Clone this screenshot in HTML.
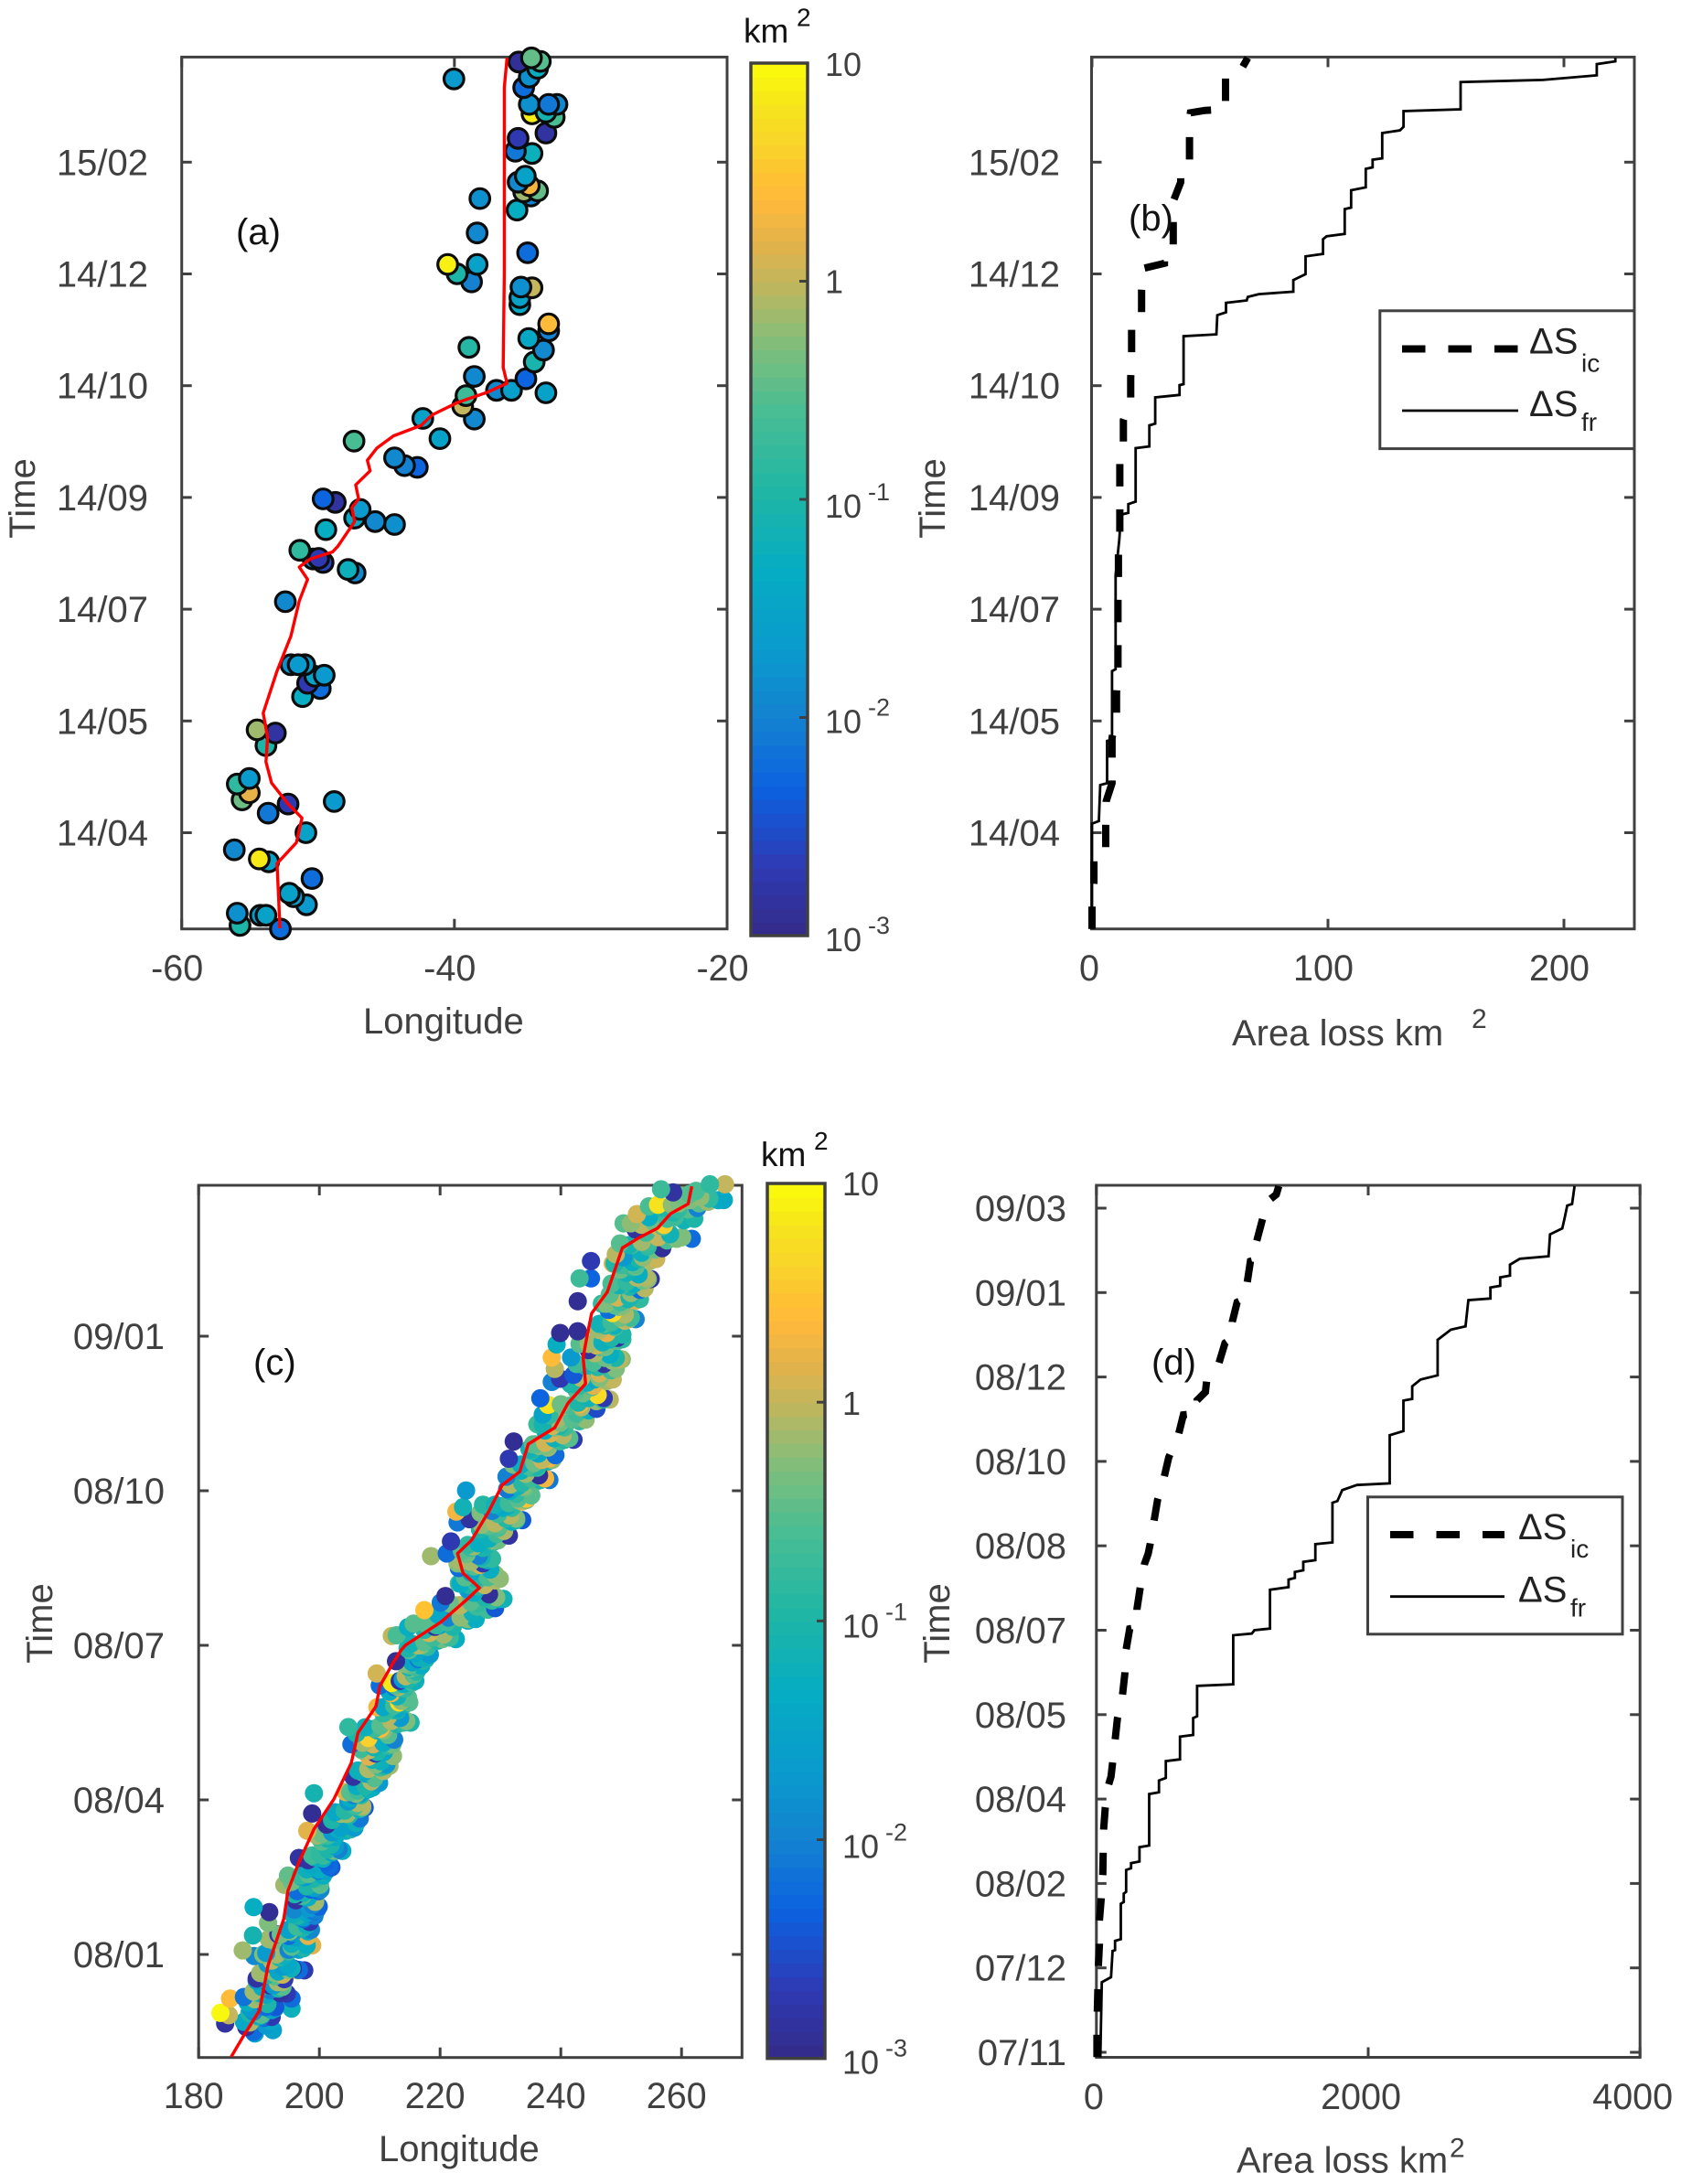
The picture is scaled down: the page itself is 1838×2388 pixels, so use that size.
<!DOCTYPE html>
<html lang="en">
<head>
<meta charset="utf-8">
<title>Area loss and longitude over time</title>
<style>
html,body{margin:0;padding:0;background:#fff;}
svg{display:block;}
text{font-family:"Liberation Sans",sans-serif;}
</style>
</head>
<body>
<svg id="chart" xmlns="http://www.w3.org/2000/svg" width="1838" height="2388" viewBox="0 0 1838 2388"></svg>
<script>
/* ---------- Shared tick data ---------- */
const timeTicksAB = [0, 1, 2, 3, 4, 5, 6];
const timeLabelsAB = ['14/04', '14/05', '14/07', '14/09', '14/10', '14/12', '15/02'];
const timeTicksC = [0, 1, 2, 3, 4];
const timeLabelsC = ['08/01', '08/04', '08/07', '08/10', '09/01'];
const timeTicksD = [0, 1, 2, 3, 4, 5, 6, 7, 8, 9, 10];
const timeLabelsD = ['07/11', '07/12', '08/02', '08/04', '08/05', '08/07', '08/08', '08/10', '08/12', '09/01', '09/03'];
const lonTicksA = [-60, -40, -20];
const lonTicksC = [180, 200, 220, 240, 260];
const areaTicksB = [0, 100, 200];
const areaTicksD = [0, 2000, 4000];
const colorTickValues = [10, 1, 0.1, 0.01, 0.001];
const colorTickBases = ['10', '1', '10', '10', '10'];
const colorTickExps = ['', '', '-1', '-2', '-3'];

/* ---------- Panel (a) scatter: longitude, time index, area km2 ---------- */
const lonA = [-40.04,-35.28,-33.70,-33.90,-34.35,-34.51,-34.92,-34.51,-32.48,-33.09,-33.29,-32.68,-34.31,-33.29,-35.33,-35.53,-34.31,
-34.39,-34.92,-33.90,-34.51,-35.33,-34.80,-38.13,-35.41,-38.33,-34.63,-40.49,-39.80,-38.74,-38.33,-34.31,-35.20,-35.20,-35.12,
-33.09,-33.09,-34.55,-38.94,-34.15,-33.46,-34.76,-38.54,-36.91,-35.81,-33.29,-39.39,-39.15,-38.54,-42.32,-41.06,-47.36,
-42.72,-43.66,-44.39,-48.74,-49.63,-47.32,-46.91,-45.81,-44.39,-49.43,
-51.34,-49.63,-49.96,-50.37,-47.28,-47.80,-52.40,-50.98,-51.99,-51.46,-49.55,-49.84,-50.77,-50.24,-51.14,
-53.82,-54.47,-53.13,-55.57,-55.04,-55.93,-55.04,-52.20,-48.82,-53.66,-50.89,-56.14,-53.62,-54.31,-50.45,-51.79,-52.11,-50.85,-55.93,-55.73,-54.23,-53.82,-52.76];
const timeA = [6.745,6.896,6.902,6.84,6.933,6.761,6.667,6.517,6.517,6.517,6.448,6.401,6.432,6.26,6.213,6.097,6.078,
5.696,5.734,5.743,5.790,5.821,5.875,5.674,5.571,5.367,5.189,5.085,5.001,4.929,5.085,4.876,4.725,4.788,4.882,
4.490,4.553,4.422,4.343,4.212,4.318,4.061,4.083,3.958,3.958,3.936,3.817,3.911,3.701,3.707,3.526,3.504,
3.269,3.285,3.354,2.956,2.987,2.815,2.893,2.784,2.758,2.712,
2.527,2.418,2.455,2.449,2.324,2.355,2.067,1.503,1.503,1.503,1.409,1.290,1.337,1.400,1.218,
0.780,0.921,0.892,0.294,0.357,0.435,0.485,0.257,0.279,0.175,0,-0.153,-0.26,-0.235,-0.41,-0.573,-0.542,-0.645,-0.72,-0.83,-0.739,-0.739,-0.862];
const areaA = [.02,.0013,.3,.05,.35,.015,.006,.015,.012,.008,.08,.25,8,.0015,.002,.008,.06,
.01,.7,.35,2,.012,.03,.015,.05,.012,.006,8,.1,.01,.03,1,.04,.03,.015,
.01,2.5,.04,.12,.09,.012,.005,.012,.012,.025,.03,1,.2,.012,.03,.03,.25,
.005,.01,.012,.0015,.005,.04,.02,.012,.015,.05,
.15,.0025,.002,.012,.012,.06,.012,.02,.015,.02,.02,.006,.002,.03,.05,
.1,.7,.0015,.4,1.6,.15,.02,.002,.02,.008,.03,.012,.03,7,.006,.02,.03,.02,.015,.1,.02,.03,.006];

/* ---------- Panel (a) track ---------- */
const trackLonA = [-36.14,-36.34,-36.34,-36.34,-36.42,-36.14,-37.56,-39.80,-41.63,-42.44,-44.47,-45.69,-46.38,-46.18,-47.24,-47.03,-47.52,-47.32,-48.54,-48.94,-50.57,-51.38,-50.77,-51.38,-51.99,-53.01,-54.02,-53.70,-53.82,-53.41,-52.20,-51.18,-51.59,-53.01,-52.89,-52.80];
const trackTimeA = [6.933,6.667,5.884,5.007,4.162,4.021,3.942,3.848,3.739,3.645,3.551,3.441,3.332,3.238,3.112,2.987,2.909,2.784,2.564,2.512,2.449,2.377,2.267,2.073,1.760,1.447,1.071,0.852,0.633,0.445,0.257,0.132,-0.088,-0.276,-0.589,-0.855];

/* ---------- Panel (b) cumulative area ---------- */
const frAreaB = [221.8,221.8,213.9,213.9,191.1,156.2,156.2,132.0,132.0,130.5,123.0,123.0,118.9,118.9,116.0,116.0,109.8,109.8,107.1,107.1,99.4,97.9,97.9,90.5,90.5,85.3,85.3,70.7,66.0,65.6,56.8,56.8,53.1,52.7,38.8,38.8,37.1,37.1,26.8,26.8,24.3,24.3,18.5,18.5,15.4,15.4,12.2,11.6,10.0,10.0,8.5,8.5,6.4,6.4,3.5,2.9,0,0];
const frTimeB = [6.933,6.902,6.877,6.777,6.736,6.717,6.473,6.457,6.316,6.285,6.260,6.034,6.022,5.953,5.940,5.774,5.749,5.593,5.580,5.358,5.336,5.311,5.179,5.157,4.998,4.945,4.841,4.819,4.794,4.763,4.741,4.656,4.631,4.459,4.443,4.014,4.005,3.917,3.895,3.660,3.645,3.457,3.441,2.962,2.940,2.862,2.846,2.628,2.304,1.463,1.447,0.832,0.822,0.443,0.427,0.104,0.081,-0.86];
const icAreaB = [0,0,0.8,0.8,0.8,5.8,5.8,5.8,6.0,8.5,8.5,8.5,10.4,10.4,11.0,11.0,11.0,11.0,11.2,11.2,11.8,11.8,11.8,11.8,13.3,13.3,16.4,16.4,16.8,16.8,16.8,21.0,21.0,21.0,21.6,30.7,30.7,34.4,34.4,34.4,34.4,37.6,37.6,41.3,41.3,41.3,41.3,41.7,47.9,56.6,56.6,56.6,56.6,63.5,66.0];
const icTimeB = [-0.861,-0.657,-0.447,-0.252,-0.172,-0.139,-0.123,0.071,0.282,0.443,0.670,0.848,1.058,1.252,1.463,1.657,1.883,2.078,2.288,2.482,2.693,2.887,3.097,3.300,3.488,3.692,3.880,4.068,4.287,4.475,4.553,4.616,4.647,4.851,5.048,5.095,5.148,5.179,5.226,5.430,5.649,5.821,5.884,5.947,5.978,6.166,6.385,6.442,6.463,6.473,6.526,6.730,6.777,6.839,6.933];

/* ---------- Panel (c) scatter: longitude, time index, area km2 ---------- */
const lonC = [
189.1,191.8,187.9,190.4,192.3,188.5,190.9,191.2,
190.2,188.6,193.5,191.4,189.3,192.7,188.1,190.8,
191.8,193.9,189.6,192.6,190.5,194.2,191.1,193.1,
193.4,196.6,190.7,194.8,192.1,195.6,191.4,193.9,
194.9,191.6,197.9,193.2,196.5,192.4,198.1,195.4,
197.4,195.1,199.2,196.3,198.4,194.9,197.9,196.8,
198.5,196.1,199.9,197.2,195.8,199.3,197.8,198.9,
199.4,196.3,200.6,197.9,195.4,198.6,200.1,197.1,
199.9,198.1,201.6,200.6,197.9,201.1,199.2,198.7,
201.3,203.8,199.6,202.6,200.4,203.2,201.9,199.9,
203.1,206.7,201.2,204.6,205.8,202.1,203.9,206.1,
205.7,207.5,204.4,206.3,205.1,207.1,204.8,206.8,
208.1,205.6,209.9,207.1,206.2,209.1,207.7,208.6,
209.3,211.6,207.1,210.2,208.2,211.1,208.8,210.7,
208.9,206.1,212.4,210.1,207.2,211.4,209.6,208.1,
212.3,215.1,209.6,213.4,210.6,214.4,211.4,212.9,
213.2,211.6,214.7,212.4,214.1,211.9,213.7,212.9,
215.1,213.3,216.9,214.3,216.1,213.8,215.6,214.8,
216.4,214.6,218.3,215.4,217.4,214.9,216.9,215.9,
219.1,222.6,215.6,220.6,217.4,221.6,218.2,219.9,
224.6,229.1,219.6,226.3,221.4,227.9,223.1,225.4,
226.6,230.5,223.1,228.1,224.6,229.3,225.6,227.4,
225.9,223.1,229.1,227.1,224.1,228.3,226.6,225.1,
225.1,222.9,227.8,226.4,223.6,227.1,224.4,225.9,
228.9,226.6,231.4,229.9,227.4,230.6,228.1,229.4,
230.4,233.6,227.1,231.6,228.6,232.6,229.6,231.1,
233.1,231.1,235.1,232.1,234.3,231.6,233.8,232.6,
235.1,238.1,232.1,236.4,233.4,237.4,234.2,235.9,
236.9,234.8,239.1,235.8,238.1,235.2,237.6,236.3,
239.1,242.1,236.1,240.3,237.4,241.4,238.2,239.8,
241.9,245.9,238.1,243.1,239.6,244.6,240.6,242.6,
244.9,248.1,241.6,246.1,242.6,247.1,243.6,245.4,
245.6,249.1,242.1,247.1,243.4,248.3,244.4,246.4,
246.6,250.1,243.1,248.1,244.6,249.1,245.6,247.4,
248.1,245.9,250.2,247.1,249.4,246.4,248.9,247.6,
249.6,252.4,246.8,250.6,247.9,251.6,248.6,250.1,
251.1,253.9,248.1,252.1,249.4,253.1,250.1,251.6,
251.6,254.9,248.6,252.9,249.9,254.1,250.9,252.4,
252.9,256.8,249.1,254.1,250.4,255.6,251.6,253.4,
256.1,261.7,250.4,258.1,252.4,260.1,254.1,257.1,
257.6,262.6,252.6,259.6,254.6,261.1,256.1,258.6,
261.4,266.1,256.6,263.1,258.6,264.6,260.1,262.4,
183.6,185.0,185.2,187.5,184.4,187.5,189.3,192.1,195.4,195.4,194.6,193.9,189.1,191.7,191.5,189.0,187.3,189.2,198.8,197.5,196.4,189.6,194.8,194.2,196.6,202.0,196.1,199.1,198.8,198.0,202.4,204.8,205.3,209.5,212.0,210.0,212.7,210.6,212.2,
245.0,245.0,243.1,242.8,239.9,242.8,239.3,238.5,241.7,239.0,239.9,238.5,236.6,237.9,237.0,232.2,231.4,231.0,224.3,223.8,222.7,226.7,222.9,224.9,221.8,221.1,218.5,220.9,220.1,217.4,214.7,212.0,212.8,267.2,264.7,267.0,
189.9,192.6,188.4,191.1,190.4,192.1,189.1,
191.2,193.9,189.1,192.4,190.1,193.2,191.8,
192.6,195.4,190.2,193.9,191.4,194.9,193.2,
194.1,197.4,191.2,195.4,192.9,196.6,194.9,
196.1,198.6,193.6,197.2,194.9,198.1,195.6,
197.4,199.6,195.6,198.4,196.4,199.1,197.9,
198.1,200.2,195.9,199.1,196.9,199.9,197.4,
198.9,201.1,196.9,199.9,197.6,200.6,198.2,
200.6,202.6,198.8,201.4,199.4,202.1,200.1,
202.6,205.2,200.4,203.6,201.4,204.4,202.1,
204.9,207.1,202.6,205.9,203.6,206.6,204.2,
206.9,208.8,205.1,207.6,206.1,208.2,206.4,
208.6,210.8,206.4,209.4,207.4,210.1,208.1,
209.6,212.1,206.9,210.6,208.1,211.4,209.1,
210.6,213.9,207.6,211.9,209.1,212.9,210.1,
212.9,214.9,210.6,213.6,211.6,214.2,212.4,
214.1,215.9,212.6,214.9,213.1,215.4,213.9,
215.9,217.6,214.1,216.6,214.9,217.2,215.4,
217.9,220.4,215.1,218.9,216.4,219.6,217.4,
222.1,225.9,217.6,223.4,219.4,224.6,221.1,
226.1,229.8,221.6,227.4,223.4,228.6,225.1,
226.4,229.9,223.4,227.9,224.9,229.1,225.9,
225.6,228.6,222.9,226.9,224.1,227.9,225.1,
227.1,229.6,224.6,228.1,225.6,228.9,226.4,
229.6,232.6,226.9,230.9,228.1,231.9,229.1,
231.9,234.3,229.1,232.9,230.4,233.6,231.4,
234.1,236.6,231.6,235.1,232.9,235.9,233.6,
236.1,238.6,233.4,237.1,234.6,237.9,235.6,
237.9,240.6,235.4,238.9,236.4,239.9,237.4,
240.6,244.1,237.0,241.9,238.6,243.1,239.9,
243.4,247.0,240.0,244.6,241.4,245.9,242.9,
245.1,248.6,241.9,246.4,243.1,247.6,244.4,
246.1,249.7,242.6,247.4,243.9,248.6,245.4,
247.4,250.2,244.6,248.4,245.9,249.4,246.9,
248.9,251.3,246.4,249.9,247.4,250.6,248.4,
250.4,253.1,247.5,251.4,248.9,252.4,249.9,
251.4,254.4,248.4,252.6,249.6,253.6,250.9,
252.4,255.8,248.9,253.6,250.1,254.9,251.9,
254.4,259.2,249.8,256.1,251.4,257.6,253.4,
256.9,262.1,251.6,258.9,253.4,260.4,255.4,
259.4,264.4,254.6,261.4,256.6,262.9,258.4];
const timeC = [
-.50,-.43,-.47,-.40,-.49,-.44,-.41,-.46,
-.27,-.35,-.25,-.32,-.29,-.34,-.31,-.26,
-.20,-.13,-.17,-.12,-.21,-.16,-.13,-.18,
-.02,-.10,0,-.07,-.04,-.09,-.06,-.01,
.03,.10,.06,.13,.04,.09,.12,.07,
.23,.15,.25,.18,.21,.16,.19,.24,
.28,.35,.31,.38,.29,.34,.37,.32,
.49,.41,.51,.44,.47,.42,.45,.50,
.54,.61,.57,.64,.55,.60,.63,.58,
.75,.67,.77,.70,.73,.68,.71,.76,
.81,.88,.84,.91,.82,.87,.90,.85,
1.03,.95,1.05,.98,1.01,.96,.99,1.04,
1.08,1.15,1.11,1.18,1.09,1.14,1.17,1.12,
1.30,1.22,1.32,1.25,1.28,1.23,1.26,1.31,
1.36,1.43,1.39,1.46,1.37,1.42,1.45,1.40,
1.58,1.50,1.60,1.53,1.56,1.51,1.54,1.59,
1.63,1.70,1.66,1.73,1.64,1.69,1.72,1.67,
1.85,1.77,1.87,1.80,1.83,1.78,1.81,1.86,
1.91,1.98,1.94,2.01,1.92,1.97,2.00,1.95,
2.12,2.04,2.14,2.07,2.10,2.05,2.08,2.13,
2.17,2.24,2.20,2.27,2.18,2.23,2.26,2.21,
2.38,2.30,2.40,2.33,2.36,2.31,2.34,2.39,
2.43,2.50,2.46,2.53,2.44,2.49,2.52,2.47,
2.63,2.55,2.65,2.58,2.61,2.56,2.59,2.64,
2.68,2.75,2.71,2.78,2.69,2.74,2.77,2.72,
2.89,2.81,2.91,2.84,2.87,2.82,2.85,2.90,
2.94,3.01,2.97,3.04,2.95,3.00,3.03,2.98,
3.15,3.07,3.17,3.10,3.13,3.08,3.11,3.16,
3.20,3.27,3.23,3.30,3.21,3.26,3.29,3.24,
3.41,3.33,3.43,3.36,3.39,3.34,3.37,3.42,
3.46,3.53,3.49,3.56,3.47,3.52,3.55,3.50,
3.67,3.59,3.69,3.62,3.65,3.60,3.63,3.68,
3.72,3.79,3.75,3.82,3.73,3.78,3.81,3.76,
3.93,3.85,3.95,3.88,3.91,3.86,3.89,3.94,
3.98,4.05,4.01,4.08,3.99,4.04,4.07,4.02,
4.19,4.11,4.21,4.14,4.17,4.12,4.15,4.20,
4.24,4.31,4.27,4.34,4.25,4.30,4.33,4.28,
4.45,4.37,4.47,4.40,4.43,4.38,4.41,4.46,
4.50,4.57,4.53,4.60,4.51,4.56,4.59,4.54,
4.71,4.63,4.73,4.66,4.69,4.64,4.67,4.72,
4.76,4.83,4.79,4.86,4.77,4.82,4.85,4.80,
4.92,4.88,4.95,4.90,4.93,4.89,4.91,4.94,
-.378,-.393,-.286,-.275,-.447,-.436,-.511,-.404,-.35,-.286,-.253,-.178,.306,.274,.205,.123,.026,-.01,.059,-.103,-.103,-.156,.51,.45,.624,.564,.381,1.043,.912,.8,.671,1.471,1.36,1.818,1.757,1.74,1.897,1.187,1.284,
4.486,4.374,4.374,4.226,4.021,4.032,3.947,3.862,3.862,3.788,3.725,3.704,3.598,3.556,3.493,3.319,3.207,3.091,3.002,2.894,2.865,2.858,2.795,2.816,2.672,2.594,2.577,2.319,2.277,2.228,2.118,2.061,2.065,4.983,4.983,4.881,
-.40,-.35,-.38,-.34,-.39,-.36,-.37,
-.26,-.21,-.24,-.20,-.25,-.22,-.23,
-.14,-.09,-.12,-.08,-.13,-.10,-.11,
-.01,.04,.01,.05,0,.03,.02,
.11,.16,.13,.17,.12,.15,.14,
.24,.29,.26,.30,.25,.28,.27,
.37,.42,.39,.43,.38,.41,.40,
.49,.54,.51,.55,.50,.53,.52,
.62,.67,.64,.68,.63,.66,.65,
.76,.81,.78,.82,.77,.80,.79,
.90,.95,.92,.96,.91,.94,.93,
1.03,1.08,1.05,1.09,1.04,1.07,1.06,
1.17,1.22,1.19,1.23,1.18,1.21,1.20,
1.31,1.36,1.33,1.37,1.32,1.35,1.34,
1.45,1.50,1.47,1.51,1.46,1.49,1.48,
1.58,1.63,1.60,1.64,1.59,1.62,1.61,
1.72,1.77,1.74,1.78,1.73,1.76,1.75,
1.86,1.91,1.88,1.92,1.87,1.90,1.89,
1.99,2.04,2.01,2.05,2.00,2.03,2.02,
2.12,2.17,2.14,2.18,2.13,2.16,2.15,
2.25,2.30,2.27,2.31,2.26,2.29,2.28,
2.38,2.43,2.40,2.44,2.39,2.42,2.41,
2.51,2.56,2.53,2.57,2.52,2.55,2.54,
2.63,2.68,2.65,2.69,2.64,2.67,2.66,
2.76,2.81,2.78,2.82,2.77,2.80,2.79,
2.89,2.94,2.91,2.95,2.90,2.93,2.92,
3.02,3.07,3.04,3.08,3.03,3.06,3.05,
3.15,3.20,3.17,3.21,3.16,3.19,3.18,
3.28,3.33,3.30,3.34,3.29,3.32,3.31,
3.41,3.46,3.43,3.47,3.42,3.45,3.44,
3.54,3.59,3.56,3.60,3.55,3.58,3.57,
3.67,3.72,3.69,3.73,3.68,3.71,3.70,
3.80,3.85,3.82,3.86,3.81,3.84,3.83,
3.93,3.98,3.95,3.99,3.94,3.97,3.96,
4.06,4.11,4.08,4.12,4.07,4.10,4.09,
4.19,4.24,4.21,4.25,4.20,4.23,4.22,
4.32,4.37,4.34,4.38,4.33,4.36,4.35,
4.45,4.50,4.47,4.51,4.46,4.49,4.48,
4.58,4.63,4.60,4.64,4.59,4.62,4.61,
4.71,4.76,4.73,4.77,4.72,4.75,4.74,
4.82,4.87,4.84,4.88,4.83,4.86,4.85];
const areaC = [
.006,.04,.0015,.01,.03,.8,.006,.02,
.5,.02,.0015,.1,.7,.004,.05,.3,
.0013,1.2,.02,.5,.05,.002,.1,.7,
.1,.006,.5,.04,.8,.0015,.02,.3,
.01,.7,.05,.002,.02,.4,1.5,.06,
.006,.5,.01,.2,.002,.03,.06,.015,
.02,.0015,.005,.3,.012,.7,.05,.01,
.2,.006,.05,.1,.4,.005,.3,.08,
.01,.0015,.006,.2,.06,.005,.3,.04,
.08,.05,.7,.02,.3,.01,.1,.2,
.05,.008,.0013,.7,.02,.1,.03,.06,
.01,.004,1.5,.8,.05,.9,.02,.03,
.1,.0015,.02,.6,.05,.3,.03,.8,
.002,.7,.5,.06,1.5,.02,.08,.04,
1.2,.1,.01,2.5,.7,.3,.06,4,
.2,.1,2,.02,.15,.5,.9,.04,
5,.05,.3,.008,.2,2,.1,.07,
.4,.0015,.05,.9,.12,.02,.3,.06,
.008,.1,.02,.7,.06,.3,.5,.04,
.0013,.05,.3,.7,.1,.2,1.2,.03,
.5,.004,.04,.15,.01,.2,.9,.06,
.008,.07,.2,.0013,.02,.5,.05,1,
.1,.006,.6,.002,.3,.05,1.2,.04,
.2,.7,.08,.01,.3,.15,.4,.05,
.6,.1,.0015,.3,.05,.8,.02,.2,
.05,.004,.12,.9,.01,.5,.2,.06,
.8,.008,.3,.1,3,.05,.6,.15,
.2,.008,.5,.0013,.06,2,.7,.1,
1.2,.07,.006,.3,2,.12,.5,.04,
.5,.002,.2,.9,.05,.3,1.3,.1,
.3,.003,.15,2,.7,.06,.9,.2,
.6,.9,.1,5,.3,.002,.4,1.5,
.04,.5,.004,.0015,.9,.2,.1,1.2,
.2,.6,.3,.05,.0015,.1,.8,.4,
.05,.7,.1,.3,.0015,.9,.06,1.5,
.4,.01,.15,.8,.006,.2,5,.5,
.08,.9,.3,.05,1.2,.006,.2,.6,
.15,.0015,1.3,.05,.4,.8,.07,.3,
.1,.0013,.9,.2,.02,.4,.5,.06,
1.2,.006,.3,.07,.0015,.5,.2,4,
.2,.01,1.2,.5,.05,.3,6,.1,
.3,.05,.2,.6,.0015,.15,.4,.25,
9,1,2.5,.007,.0015,.04,.03,.002,.06,.006,.002,.7,.05,.0012,.5,.08,.7,.012,1.5,.002,1.2,.0015,.35,.7,.0015,.004,.0015,.08,.0012,1.5,.4,.15,.006,1.2,7,.006,.0012,.8,.6,
.002,.005,.2,.0012,.0012,.0012,.05,2.5,.02,.9,.002,.01,.005,6,.03,.0012,.002,.01,.02,.07,2,.5,.008,.0015,.002,.006,.7,.0012,.008,3,.05,1,.25,1,.15,.04,
.05,.02,.1,.006,.3,.04,.012,
.04,.3,.7,.02,.06,.1,.01,
.3,.06,.7,.02,.1,.5,.04,
.06,.1,.02,.3,.7,.04,.2,
.03,.012,.4,.1,.006,.05,.02,
.03,.01,.06,.02,.1,.008,.04,
.05,.012,.1,.03,.2,.006,.08,
.1,.03,.15,.05,.02,.08,.3,
.06,.012,.2,.1,.05,.03,.15,
.05,.1,.4,.03,.2,.06,.02,
.1,.3,.04,.2,.7,.06,.12,
.15,.05,.3,.1,.5,.06,.2,
.3,.1,.06,.5,.04,.2,.8,
.1,.4,.2,.05,1,.15,.07,
.5,.15,.06,.8,.2,.1,.3,
.1,.3,.04,.6,.15,.07,.2,
.15,.06,.3,.1,.7,.2,.05,
.2,.1,.5,.06,.3,.12,.04,
.15,.4,.07,.2,.8,.1,.3,
.1,.05,.3,.6,.15,.06,.2,
.2,.07,.4,.1,.9,.15,.3,
.12,.6,.05,.25,.1,.8,.2,
.3,.15,.5,.08,.2,.05,.7,
.1,.4,.15,.06,.7,.2,.05,
.25,.08,.6,.12,.3,.05,.9,
.15,.5,.07,.3,.04,1.1,.2,
.4,.1,.8,.2,.06,.3,.12,
.15,.6,.05,1,.25,.08,.4,
.7,.12,.3,.06,.5,.2,1.2,
.2,.6,.08,.3,1.1,.15,.45,
.8,.15,.4,.07,.25,.6,.1,
.3,1,.1,.5,.15,.7,.06,
.12,.9,.2,.4,.08,.6,.25,
.5,.15,.7,.1,1.1,.3,.06,
.25,.8,.07,.4,.12,1,.2,
.7,.15,.5,.09,.3,1.3,.2,
.1,.6,.25,.9,.07,.4,.15,
.4,1.1,.1,.6,.2,.8,.05,
.15,.5,.3,1,.08,.25,.7,
.3,.1,.6,.2,.9,.07,.4,
.15,.7,.25,.5,.1,.3,.6];

/* ---------- Panel (c) track ---------- */
const trackLonC = [261.7,261.1,258.2,256.0,252.8,250.2,248.8,247.7,245.1,244.4,243.7,244.1,241.2,239.0,234.6,233.2,230.3,228.1,225.2,222.9,223.8,226.5,224.5,220.1,214.3,213.6,212.2,210.0,209.4,206.4,205.3,202.4,199.1,196.6,194.8,194.1,191.5,190.1,187.5,185.4];
const trackTimeC = [4.97,4.856,4.793,4.698,4.634,4.571,4.412,4.285,4.148,4.011,3.863,3.693,3.567,3.408,3.302,3.123,3.038,2.869,2.679,2.594,2.467,2.372,2.298,2.150,2.002,1.972,1.886,1.735,1.606,1.434,1.241,1.004,0.811,0.596,0.413,0.230,-0.071,-0.361,-0.523,-0.662];

/* ---------- Panel (d) cumulative area ---------- */
const frAreaD = [3518,3500,3464,3446,3428,3338,3327,3115,3043,3043,2971,2971,2899,2899,2737,2716,2608,2511,2511,2385,2324,2324,2259,2259,2158,2158,1917,1809,1773,1737,1737,1611,1611,1522,1522,1460,1460,1414,1414,1277,1277,1162,1144,1007,1007,741,741,712,712,615,615,511,511,460,460,388,388,317,317,255,255,219,219,201,201,180,180,137,137,119,108,40,29];
const frTimeD = [10.26,10.05,10.03,9.89,9.76,9.69,9.43,9.40,9.33,9.20,9.18,9.08,9.06,8.93,8.91,8.60,8.56,8.44,8.02,7.97,7.89,7.74,7.72,7.36,7.31,6.74,6.72,6.66,6.53,6.51,6.04,6.02,5.83,5.81,5.71,5.69,5.62,5.60,5.51,5.48,5.02,5.00,4.96,4.94,4.36,4.34,3.98,3.96,3.76,3.74,3.47,3.45,3.25,3.22,3.08,3.06,2.45,2.43,2.26,2.24,2.18,2.16,1.90,1.88,1.78,1.76,1.34,1.32,1.21,1.20,0.89,0.83,-0.06];
const icAreaD = [4,4,7,11,14,22,22,36,47,50,54,65,90,108,119,137,155,191,209,216,245,299,299,324,353,381,396,424,450,496,532,604,640,741,741,802,813,899,946,1000,1000,1036,1090,1108,1133,1173,1180,1223,1252,1270,1324,1342];
const icTimeD = [-0.057,0.207,0.483,0.747,1.011,1.275,1.560,1.824,2.108,2.352,2.656,2.900,3.172,3.266,3.428,3.692,3.956,4.220,4.484,4.745,5.016,5.035,5.256,5.519,5.782,5.906,6.022,6.293,6.545,6.796,7.048,7.319,7.551,7.570,7.725,7.822,7.977,8.151,8.402,8.460,8.654,8.886,8.925,9.099,9.370,9.389,9.610,9.873,9.911,10.093,10.163,10.260];

/* ---------- Colour map stops (position, r, g, b) ---------- */
const cmapStops = [[0,52,42,136],[.08,46,58,180],[.17,12,98,224],[.25,20,130,208],[.33,10,155,205],[.42,6,172,195],[.5,28,181,168],[.6,72,189,148],[.68,130,190,122],[.75,195,182,92],[.79,224,178,76],[.84,254,184,60],[.87,254,194,51],[.91,248,213,42],[.95,246,228,28],[1,249,252,10]];

const AXIS = '#404040';
const svg = document.getElementById('chart');
const NS = 'http://www.w3.org/2000/svg';

function add(parent, tag, attrs, txt) {
  const el = document.createElementNS(NS, tag);
  for (const k in attrs) el.setAttribute(k, attrs[k]);
  if (txt !== undefined) el.textContent = txt;
  parent.appendChild(el);
  return el;
}
function colorFor(area) {
  let t = (Math.log10(area) + 3) / 4;
  t = Math.max(0, Math.min(1, t));
  for (let i = 1; i < cmapStops.length; i++) {
    const a = cmapStops[i - 1], b = cmapStops[i];
    if (t <= b[0]) {
      const f = (t - a[0]) / (b[0] - a[0]);
      return 'rgb(' + [1, 2, 3].map(j => Math.round(a[j] + (b[j] - a[j]) * f)).join(',') + ')';
    }
  }
  return 'rgb(249,252,10)';
}
function polyPoints(xs, ys, xf, yf) {
  const n = Math.min(xs.length, ys.length);
  const out = [];
  for (let i = 0; i < n; i++) out.push(xf(xs[i]).toFixed(1) + ',' + yf(ys[i]).toFixed(1));
  return out.join(' ');
}

function drawAxes(g, b, xf, yf, xTicks, yTicks, yLabels, opt) {
  const frame = add(g, 'rect', {x: b.l, y: b.t, width: b.r - b.l, height: b.b - b.t, fill: 'none', stroke: AXIS, 'stroke-width': 3});
  
  
  xTicks.forEach(v => {
    const x = xf(v);
    const t1 = add(g, 'line', {x1: x, x2: x, y1: b.b, y2: b.b - 11, stroke: AXIS, 'stroke-width': 3});
    
    
    const t2 = add(g, 'line', {x1: x, x2: x, y1: b.t, y2: b.t + 11, stroke: AXIS, 'stroke-width': 3});
    
    
    const lab = add(g, 'text', {x: x + (v === 0 ? -3 : opt.xLabelShift), y: opt.xLabelY, 'text-anchor': 'middle', 'font-size': 39.5, fill: AXIS}, String(v));
    
    
  });
  yTicks.forEach((v, i) => {
    const y = yf(v);
    const t1 = add(g, 'line', {x1: b.l, x2: b.l + 11, y1: y, y2: y, stroke: AXIS, 'stroke-width': 3});
    
    
    const t2 = add(g, 'line', {x1: b.r, x2: b.r - 11, y1: y, y2: y, stroke: AXIS, 'stroke-width': 3});
    
    
    const lab = add(g, 'text', {x: opt.yLabelX, y: y + 14, 'text-anchor': 'end', 'font-size': 40, fill: AXIS}, yLabels[i]);
    
    
  });
  const yt = add(g, 'text', {transform: 'translate(' + opt.timeX + ',' + opt.timeY + ') rotate(-90)', 'text-anchor': 'middle', 'font-size': 40, fill: AXIS}, 'Time');
  
  
}

function drawScatter(g, lons, times, areas, xf, yf, r, edge) {
  const n = Math.min(lons.length, times.length, areas.length);
  const order = Array.from({length: n}, (_, i) => i).sort((p, q) => times[p] - times[q]);
  order.forEach(i => {
    const c = add(g, 'circle', {cx: xf(lons[i]).toFixed(1), cy: yf(times[i]).toFixed(1), r: r, fill: colorFor(areas[i])});
    if (edge) { c.setAttribute('stroke', '#0c0c0c'); c.setAttribute('stroke-width', 3.2); }
    
    
  });
}

function drawColorbar(g, cb, labelOffsets) {
  const yOf = v => cb.b - (Math.log10(v) + 3) / 4 * (cb.b - cb.t);
  const bands = 64;
  for (let i = 0; i < bands; i++) {
    const v = Math.pow(10, -3 + 4 * (i + 0.5) / bands);
    const yTop = cb.b - (i + 1) / bands * (cb.b - cb.t);
    const band = add(g, 'rect', {x: cb.l, y: yTop.toFixed(1), width: cb.r - cb.l, height: ((cb.b - cb.t) / bands + 1).toFixed(1), fill: colorFor(v)});
    
    
  }
  const fr = add(g, 'rect', {x: cb.l, y: cb.t, width: cb.r - cb.l, height: cb.b - cb.t, fill: 'none', stroke: AXIS, 'stroke-width': 3.5});
  
  
  colorTickValues.forEach((v, i) => {
    const y = yOf(v);
    if (i > 0 && i < colorTickValues.length - 1) {
      const t = add(g, 'line', {x1: cb.r - 9, x2: cb.r, y1: y, y2: y, stroke: AXIS, 'stroke-width': 3});
      
      
    }
    const base = add(g, 'text', {x: cb.labelX, y: y + labelOffsets[i], 'font-size': 36, fill: AXIS}, colorTickBases[i]);
    
    
    if (colorTickExps[i]) {
      const ex = add(g, 'text', {x: cb.labelX + 47, y: y + labelOffsets[i] - 19, 'font-size': 27, fill: AXIS}, colorTickExps[i]);
      
      
    }
  });
  const km = add(g, 'text', {x: cb.unitX, y: cb.unitY, 'font-size': 37, fill: '#111'}, 'km');
  
  
  const two = add(g, 'text', {x: cb.unitX + 58, y: cb.unitY - 18, 'font-size': 28, fill: '#111'}, '2');
  
  
}

function drawLegend(g, lg) {
  const box = add(g, 'rect', {x: lg.l, y: lg.t, width: lg.r - lg.l, height: lg.b - lg.t, fill: '#fff', stroke: AXIS, 'stroke-width': 3});
  
  
  const l1 = add(g, 'line', {x1: lg.lineX1, x2: lg.lineX2, y1: lg.y1, y2: lg.y1, stroke: '#000', 'stroke-width': 8, 'stroke-dasharray': '25.5 25'});
  
  
  const l2 = add(g, 'line', {x1: lg.lineX1, x2: lg.lineX2, y1: lg.y2, y2: lg.y2, stroke: '#000', 'stroke-width': 2.8});
  
  
  const t1 = add(g, 'text', {x: lg.textX, y: lg.y1 + 5, 'font-size': 40, fill: '#222'}, 'ΔS');
  
  
  const s1 = add(g, 'text', {x: lg.textX + 57, y: lg.y1 + 25, 'font-size': 28, fill: '#222'}, 'ic');
  
  
  const t2 = add(g, 'text', {x: lg.textX, y: lg.y2 + 6, 'font-size': 40, fill: '#222'}, 'ΔS');
  
  
  const s2 = add(g, 'text', {x: lg.textX + 57, y: lg.y2 + 22, 'font-size': 28, fill: '#222'}, 'fr');
  
  
}

function panelLabel(g, txt, x, y) {
  const t = add(g, 'text', {x: x, y: y, 'font-size': 40, fill: '#111'}, txt);
  
  
}
function axisTitle(g, txt, x, y, name) {
  const t = add(g, 'text', {x: x, y: y, 'font-size': 40, fill: AXIS}, txt);
  
  
}
function stepLine(g, xs, ys, xf, yf, name) {
  const l = add(g, 'polyline', {points: polyPoints(xs, ys, xf, yf), fill: 'none', stroke: '#000', 'stroke-width': 2.8, 'stroke-linejoin': 'miter'});
  
  
}
function dashLine(g, xs, ys, xf, yf, name, dash) {
  const l = add(g, 'polyline', {points: polyPoints(xs, ys, xf, yf), fill: 'none', stroke: '#000', 'stroke-width': 8, 'stroke-dasharray': dash});
  
  
}
function redLine(g, xs, ys, xf, yf) {
  const l = add(g, 'polyline', {points: polyPoints(xs, ys, xf, yf), fill: 'none', stroke: '#ff0000', 'stroke-width': 3.4, 'stroke-linejoin': 'round'});
  
  
}

/* ---------- Panel (a) ---------- */
(function () {
  const g = add(svg, 'g', {});
  
  
  const b = {l: 198.7, r: 795, t: 62.4, b: 1015.7};
  const xf = v => b.l + (v + 60) * (b.r - b.l) / 40;
  const yf = t => 910.5 - 122.2 * t;
  drawAxes(g, b, xf, yf, lonTicksA, timeTicksAB, timeLabelsAB, {xLabelShift: -5, xLabelY: 1072, yLabelX: 162, timeX: 38, timeY: 545});
  axisTitle(g, 'Longitude', 397, 1130, 'x-axis-title');
  drawScatter(g, lonA, timeA, areaA, xf, yf, 10.8, true);
  redLine(g, trackLonA, trackTimeA, xf, yf);
  panelLabel(g, '(a)', 258, 267);
  drawColorbar(g, {l: 821, r: 883, t: 69, b: 1023, labelX: 902, unitX: 813, unitY: 46.7}, [14, 13, 20, 17, 17]);
})();

/* ---------- Panel (b) ---------- */
(function () {
  const g = add(svg, 'g', {});
  
  
  const b = {l: 1193.5, r: 1787, t: 62.4, b: 1015.7};
  const xf = v => 1194 + v * 2.58;
  const yf = t => 910.5 - 122.2 * t;
  drawAxes(g, b, xf, yf, areaTicksB, timeTicksAB, timeLabelsAB, {xLabelShift: -5, xLabelY: 1072, yLabelX: 1159, timeX: 1033, timeY: 545});
  axisTitle(g, 'Area loss km', 1347, 1143, 'x-axis-title');
  const sup = add(g, 'text', {x: 1609, y: 1124, 'font-size': 30, fill: AXIS}, '2');
  
  
  dashLine(g, icAreaB, icTimeB, xf, yf, 'ice-area-loss-line', '24.5 25');
  stepLine(g, frAreaB, frTimeB, xf, yf, 'front-area-loss-line');
  panelLabel(g, '(b)', 1234, 252);
  drawLegend(g, {l: 1508.8, r: 1787, t: 339.8, b: 490.6, lineX1: 1533, lineX2: 1660, y1: 381.5, y2: 449, textX: 1672});
})();

/* ---------- Panel (c) ---------- */
(function () {
  const g = add(svg, 'g', {});
  
  
  const b = {l: 217.2, r: 811.3, t: 1296, b: 2249.7};
  const xf = v => 217.2 + (v - 180) * 6.6;
  const yf = t => 2137 - 169 * t;
  drawAxes(g, b, xf, yf, lonTicksC, timeTicksC, timeLabelsC, {xLabelShift: -5.5, xLabelY: 2305, yLabelX: 180, timeX: 57, timeY: 1775});
  axisTitle(g, 'Longitude', 414, 2363, 'x-axis-title');
  drawScatter(g, lonC, timeC, areaC, xf, yf, 10, false);
  redLine(g, trackLonC, trackTimeC, xf, yf);
  panelLabel(g, '(c)', 277, 1503);
  drawColorbar(g, {l: 839, r: 902, t: 1294, b: 2250.7, labelX: 921, unitX: 832, unitY: 1275}, [13, 14, 18, 20, 17]);
})();

/* ---------- Panel (d) ---------- */
(function () {
  const g = add(svg, 'g', {});
  
  
  const b = {l: 1198.8, r: 1793.2, t: 1296, b: 2249.5};
  const xf = v => 1198.8 + v * (b.r - b.l) / 4000;
  const yf = t => 2244 - 92.3 * t;
  drawAxes(g, b, xf, yf, areaTicksD, timeTicksD, timeLabelsD, {xLabelShift: -8, xLabelY: 2306, yLabelX: 1166, timeX: 1038, timeY: 1775});
  axisTitle(g, 'Area loss km', 1352, 2375.6, 'x-axis-title');
  const sup = add(g, 'text', {x: 1585, y: 2358.7, 'font-size': 30, fill: AXIS}, '2');
  
  
  dashLine(g, icAreaD, icTimeD, xf, yf, 'ice-area-loss-line', '24.5 25.3');
  stepLine(g, frAreaD, frTimeD, xf, yf, 'front-area-loss-line');
  panelLabel(g, '(d)', 1259, 1503);
  drawLegend(g, {l: 1495.5, r: 1774, t: 1636.8, b: 1786.8, lineX1: 1520, lineX2: 1645, y1: 1678, y2: 1745.7, textX: 1660});
})();
</script>
</body>
</html>
